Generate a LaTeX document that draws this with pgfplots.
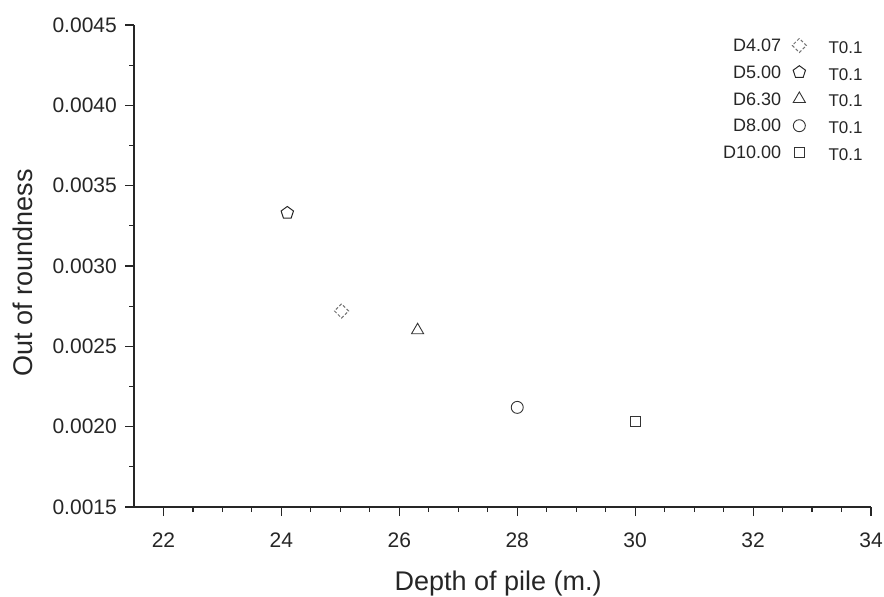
\documentclass[border=0pt]{standalone}
\usepackage{fontspec}
\setmainfont{Liberation Sans}
\usepackage{pgfplots}
\pgfplotsset{compat=1.18}
\begin{document}
\begin{tikzpicture}
\begin{axis}[
  scale only axis,
  width=737bp, height=482bp,
  xmin=21.5, xmax=34, ymin=0.0015, ymax=0.0045,
  axis x line*=bottom, axis y line*=left,
  axis line style={line width=1.2bp, black!85},
  xtick={22,24,...,34},
  ytick={0.0015,0.0020,...,0.0045},
  minor x tick num=3, minor y tick num=1,
  xtick align=outside, ytick align=outside,
  major tick length=9bp, minor tick length=5bp,
  every tick/.style={line width=1.1bp, black!85},
  scaled y ticks=false,
  /pgf/number format/assume math mode=true,
  yticklabel style={/pgf/number format/fixed, /pgf/number format/fixed zerofill, /pgf/number format/precision=4, inner sep=0pt, xshift=-8bp},
  ticklabel style={font=\fontsize{21bp}{23bp}\selectfont, text=black!85},
  xticklabel style={inner sep=0pt, yshift=-17bp},
  xlabel={Depth of pile (m.)},
  ylabel={Out of roundness},
  label style={font=\fontsize{27bp}{29bp}\selectfont, text=black!85, inner sep=0pt},
  xlabel style={at={(axis description cs:0.494,0)}, anchor=base, yshift=-83bp},
  ylabel style={at={(axis description cs:-0.1642,0.4855)}, anchor=north, rotate=0},
  legend plot pos=right,
  legend cell align=right,
  legend style={draw=none, fill=none, at={(axis cs:33.86,0.004419)}, anchor=north east,
    font=\fontsize{18bp}{20bp}\selectfont, text=black!85,
    inner sep=0pt, row sep=11.5bp, column sep=10bp,
    nodes={inner sep=1bp, text height=12.5bp, text depth=0pt}},
  legend image code/.code={
    \draw[mark repeat=2, mark phase=2] plot coordinates {(0bp,0bp) (12bp,0bp) (24bp,0bp)};
    \node[anchor=west, font=\fontsize{17bp}{19bp}\selectfont, text=black!85, inner sep=0pt, text height=12bp] at (41bp,-2bp) {T0.1};
  },
]
\addplot[only marks, mark=square, mark size=5bp, mark options={rotate=45, draw=black!55, densely dashed, line width=1bp}]
  coordinates {(25.02,0.00272)};
\addlegendentry{D4.07}
\addplot[only marks, mark=pentagon, mark size=6.5bp, mark options={draw=black!85, line width=1bp}]
  coordinates {(24.10,0.00333)};
\addlegendentry{D5.00}
\addplot[only marks, mark=triangle, mark size=7bp, mark options={draw=black!80, line width=0.9bp}]
  coordinates {(26.31,0.00260)};
\addlegendentry{D6.30}
\addplot[only marks, mark=o, mark size=6bp, mark options={draw=black!80, line width=0.9bp}]
  coordinates {(28.00,0.00212)};
\addlegendentry{D8.00}
\addplot[only marks, mark=square, mark size=5bp, mark options={draw=black!80, line width=0.9bp}]
  coordinates {(30.00,0.00203)};
\addlegendentry{D10.00}
\end{axis}
\path (current axis.south west) ++(-134bp,-90bp);
\path (current axis.north east) ++(13bp,25bp);
\end{tikzpicture}
\end{document}
